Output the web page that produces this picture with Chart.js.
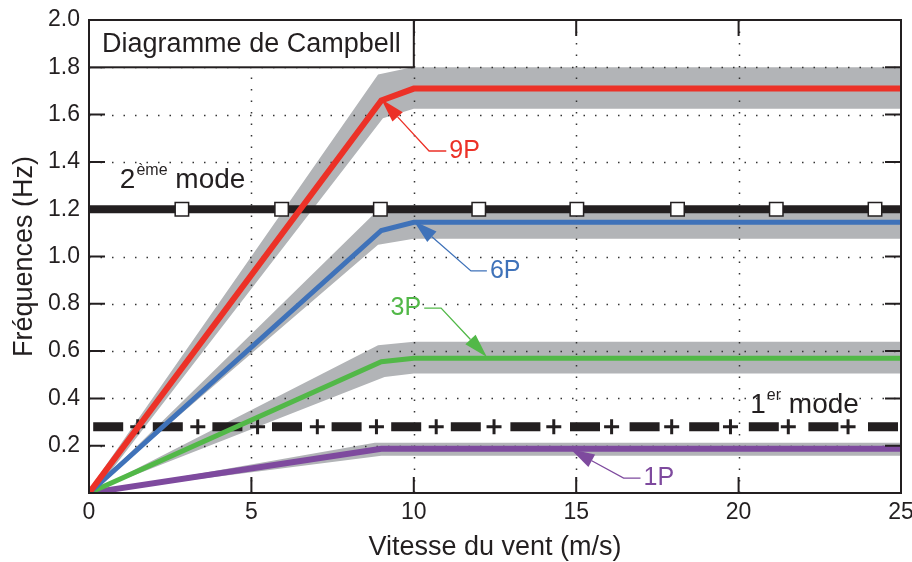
<!DOCTYPE html>
<html>
<head>
<meta charset="utf-8">
<script src="https://cdn.jsdelivr.net/npm/chart.js@4.4.0/dist/chart.umd.min.js"></script>
<style>
  html, body { margin: 0; padding: 0; background: #fff; }
</style>
</head>
<body>
<canvas id="campbell" width="912" height="562"></canvas>
<script>
// vitesse du vent aux points de cassure (m/s)
var vent = [0, 9, 10, 25];
var f9P = [0, 1.66, 1.71, 1.71];
var f6P = [0, 1.11, 1.145, 1.145];
var f3P = [0, 0.555, 0.57, 0.57];
var f1P = [0, 0.187, 0.187, 0.187];

// bandes de tolérance autour de chaque harmonique [vent, fréquence]
var bande9P_haut = [[0, 0.015], [8.9, 1.77], [9.95, 1.80], [25, 1.80]];
var bande9P_bas = [[0.15, 0], [9.05, 1.585], [10, 1.625], [25, 1.625]];
var bande6P_haut = [[0, 0], [8.85, 1.19], [10, 1.19], [25, 1.19]];
var bande6P_bas = [[0, 0], [8.9, 1.05], [10, 1.075], [25, 1.075]];
var bande3P_haut = [[0, 0], [8.9, 0.625], [10, 0.64], [25, 0.64]];
var bande3P_bas = [[0, 0], [9.1, 0.49], [10, 0.505], [25, 0.505]];
var bande1P_haut = [[0, 0], [8.8, 0.212], [25, 0.212]];
var bande1P_bas = [[0, 0], [9.0, 0.158], [25, 0.158]];

// modes propres de la tour
var mode1 = 0.28;
var mode2 = 1.2;
var mode1_marqueurs = [1.5, 3.35, 5.19, 7.03, 8.85, 10.69, 12.47, 14.31, 16.09, 17.94, 19.75, 21.53, 23.37];
var mode2_marqueurs = [2.86, 5.93, 8.97, 12.0, 15.02, 18.12, 21.16, 24.2];

var NOIR = '#231f20', GRIS = '#b2b4b7';
var ROUGE = '#ec3127', BLEU = '#3f72b9', VERT = '#52b848', VIOLET = '#7e4a9e';
var POLICE = '"Liberation Sans", Arial, Helvetica, sans-serif';

function points(xs, ys) {
  return xs.map(function (x, i) { return { x: x, y: ys[i] }; });
}
function contour(haut, bas) {
  var h = haut.map(function (p) { return { x: p[0], y: p[1] }; });
  var b = bas.slice().reverse().map(function (p) { return { x: p[0], y: p[1] }; });
  return h.concat(b);
}
function bande(haut, bas) {
  return { data: contour(haut, bas), bande: true, fill: 'shape', backgroundColor: GRIS,
           borderWidth: 0, pointRadius: 0, order: 10 };
}
function courbe(ys, couleur, epaisseur) {
  return { data: points(vent, ys), borderColor: couleur, borderWidth: epaisseur,
           borderJoinStyle: 'miter', pointRadius: 0, fill: false, order: 1 };
}
function constante(y) {
  return [{ x: 0, y: y }, { x: 25, y: y }];
}
function marqueurs(xs, y) {
  return xs.map(function (x) { return { x: x, y: y }; });
}

var datasets = [
  courbe(f9P, ROUGE, 6),
  courbe(f6P, BLEU, 5),
  courbe(f3P, VERT, 5),
  courbe(f1P, VIOLET, 6),
  { data: marqueurs(mode2_marqueurs, mode2), showLine: false, pointStyle: 'rect', pointRadius: 9.5,
    pointBackgroundColor: '#fff', pointBorderColor: NOIR, pointBorderWidth: 1.5, order: 2 },
  { data: marqueurs(mode1_marqueurs, mode1), showLine: false, pointStyle: 'cross', pointRadius: 7.5,
    pointBorderColor: NOIR, pointBorderWidth: 3, order: 2 },
  { data: constante(mode2), borderColor: NOIR, borderWidth: 8, pointRadius: 0, fill: false, order: 3 },
  { data: constante(mode1), borderColor: NOIR, borderWidth: 9, borderDash: [30, 29.6],
    borderDashOffset: 55.4, pointRadius: 0, fill: false, order: 3 },
  bande(bande9P_haut, bande9P_bas),
  bande(bande6P_haut, bande6P_bas),
  bande(bande3P_haut, bande3P_bas),
  bande(bande1P_haut, bande1P_bas)
];
var nbBandes = datasets.filter(function (d) { return d.bande; }).length;

// étiquettes fléchées des harmoniques
var reperes = [
  { texte: '9P', couleur: ROUGE, pointe: [9.0, 1.665], coude: [10.47, 1.446], fin: [11.0, 1.446] },
  { texte: '6P', couleur: BLEU, pointe: [10.0, 1.15], coude: [11.76, 0.939], fin: [12.25, 0.939] },
  { texte: '3P', couleur: VERT, pointe: [12.25, 0.575], coude: [10.84, 0.782], fin: [10.32, 0.782] },
  { texte: '1P', couleur: VIOLET, pointe: [14.83, 0.185], coude: [16.46, 0.063], fin: [16.98, 0.063] }
];

function grille(chart) {
  var ctx = chart.ctx, a = chart.chartArea, sx = chart.scales.x, sy = chart.scales.y;
  ctx.save();
  ctx.strokeStyle = '#333';
  ctx.lineWidth = 1.5;
  ctx.setLineDash([1.5, 10]);
  sx.ticks.forEach(function (t) {
    if (t.value <= sx.min || t.value >= sx.max) return;
    var px = Math.round(sx.getPixelForValue(t.value)) + 0.5;
    ctx.beginPath(); ctx.moveTo(px, a.top); ctx.lineTo(px, a.bottom); ctx.stroke();
  });
  sy.ticks.forEach(function (t) {
    if (t.value <= sy.min || t.value >= sy.max - 1e-9) return;
    var py = Math.round(sy.getPixelForValue(t.value)) + 0.5;
    ctx.beginPath(); ctx.moveTo(a.left, py); ctx.lineTo(a.right, py); ctx.stroke();
  });
  ctx.restore();
}

function cadre(chart) {
  var ctx = chart.ctx, a = chart.chartArea, sx = chart.scales.x, sy = chart.scales.y;
  var L = 16;
  ctx.save();
  ctx.strokeStyle = NOIR;
  ctx.lineWidth = 2;
  ctx.strokeRect(a.left, a.top, a.right - a.left, a.bottom - a.top);
  ctx.beginPath();
  sx.ticks.forEach(function (t) {
    var px = sx.getPixelForValue(t.value);
    ctx.moveTo(px, a.bottom); ctx.lineTo(px, a.bottom - L);
    ctx.moveTo(px, a.top); ctx.lineTo(px, a.top + L);
  });
  sy.ticks.forEach(function (t) {
    var py = sy.getPixelForValue(t.value);
    ctx.moveTo(a.left, py); ctx.lineTo(a.left + L, py);
    ctx.moveTo(a.right, py); ctx.lineTo(a.right - L, py);
  });
  ctx.stroke();
  ctx.restore();
}

function texteExposant(ctx, x, y, base, expo, suite, taille) {
  ctx.font = taille + 'px ' + POLICE;
  ctx.fillText(base, x, y);
  x += ctx.measureText(base).width + 1;
  ctx.font = Math.round(taille * 0.58) + 'px ' + POLICE;
  ctx.fillText(expo, x, y - taille * 0.45);
  x += ctx.measureText(expo).width;
  ctx.font = taille + 'px ' + POLICE;
  ctx.fillText(suite, x, y);
}

function fleche(ctx, sx, sy, r) {
  var tx = sx.getPixelForValue(r.pointe[0]), ty = sy.getPixelForValue(r.pointe[1]);
  var cx = sx.getPixelForValue(r.coude[0]), cy = sy.getPixelForValue(r.coude[1]);
  var fx = sx.getPixelForValue(r.fin[0]), fy = sy.getPixelForValue(r.fin[1]);
  var ang = Math.atan2(ty - cy, tx - cx);
  var lg = 24, dl = 7;
  var bx = tx - lg * Math.cos(ang), by = ty - lg * Math.sin(ang);
  ctx.strokeStyle = r.couleur;
  ctx.fillStyle = r.couleur;
  ctx.lineWidth = 1.3;
  ctx.beginPath();
  ctx.moveTo(fx, fy); ctx.lineTo(cx, cy); ctx.lineTo(bx, by);
  ctx.stroke();
  ctx.beginPath();
  ctx.moveTo(tx, ty);
  ctx.lineTo(bx + dl * Math.sin(ang), by - dl * Math.cos(ang));
  ctx.lineTo(bx - dl * Math.sin(ang), by + dl * Math.cos(ang));
  ctx.closePath();
  ctx.fill();
  ctx.font = '25px ' + POLICE;
  ctx.textBaseline = 'middle';
  if (fx > cx) { ctx.textAlign = 'left'; ctx.fillText(r.texte, fx + 3, fy); }
  else { ctx.textAlign = 'right'; ctx.fillText(r.texte, fx - 3, fy); }
}

function annotations(chart) {
  var ctx = chart.ctx, sx = chart.scales.x, sy = chart.scales.y;
  ctx.save();
  // cartouche du titre
  var x0 = sx.getPixelForValue(0), x1 = sx.getPixelForValue(10);
  var y0 = sy.getPixelForValue(2.0), y1 = sy.getPixelForValue(1.8);
  ctx.fillStyle = '#fff';
  ctx.fillRect(x0, y0, x1 - x0, y1 - y0);
  ctx.strokeStyle = NOIR;
  ctx.lineWidth = 2;
  ctx.strokeRect(x0, y0, x1 - x0, y1 - y0);
  ctx.fillStyle = NOIR;
  ctx.font = '27px ' + POLICE;
  ctx.textAlign = 'center';
  ctx.textBaseline = 'middle';
  ctx.fillText('Diagramme de Campbell', (x0 + x1) / 2, (y0 + y1) / 2 + 1);

  // noms des modes
  ctx.textAlign = 'left';
  ctx.textBaseline = 'alphabetic';
  texteExposant(ctx, sx.getPixelForValue(0.95), sy.getPixelForValue(1.29), '2', 'ème', ' mode', 28);
  texteExposant(ctx, sx.getPixelForValue(20.36), sy.getPixelForValue(0.338), '1', 'er', ' mode', 28);

  reperes.forEach(function (r) { fleche(ctx, sx, sy, r); });
  ctx.restore();
}

var habillage = {
  id: 'habillage',
  beforeDatasetsDraw: function (chart) { chart.$bandes = 0; },
  afterDatasetDraw: function (chart, args) {
    if (!chart.data.datasets[args.index].bande) return;
    chart.$bandes++;
    if (chart.$bandes === nbBandes) grille(chart);
  },
  afterDraw: function (chart) {
    cadre(chart);
    annotations(chart);
  }
};

new Chart(document.getElementById('campbell'), {
  type: 'line',
  data: { datasets: datasets },
  plugins: [habillage],
  options: {
    responsive: false,
    animation: false,
    events: [],
    devicePixelRatio: 1,
    layout: { padding: { top: 20, right: 10, bottom: 0, left: 0 } },
    elements: { line: { tension: 0 } },
    plugins: { legend: { display: false }, tooltip: { enabled: false } },
    scales: {
      x: {
        type: 'linear', min: 0, max: 25,
        grid: { display: false, drawTicks: false },
        border: { display: false },
        ticks: { stepSize: 5, maxRotation: 0, padding: 6, color: NOIR,
                 font: { family: POLICE, size: 23 } },
        title: { display: true, text: 'Vitesse du vent (m/s)', color: NOIR,
                 font: { family: POLICE, size: 27 }, padding: { top: 0, bottom: -2 } },
        afterFit: function (s) { s.height = 69; s.paddingLeft = 0; s.paddingRight = 0; }
      },
      y: {
        type: 'linear', min: 0, max: 2,
        grid: { display: false, drawTicks: false },
        border: { display: false },
        ticks: { stepSize: 0.2, padding: 9, color: NOIR, font: { family: POLICE, size: 23 },
                 callback: function (v) { return v === 0 ? '' : v.toFixed(1); } },
        title: { display: true, text: 'Fréquences (Hz)', color: NOIR,
                 font: { family: POLICE, size: 27 }, padding: { top: 8, bottom: 0 } },
        afterFit: function (s) { s.width = 89; s.paddingTop = 0; s.paddingBottom = 0; }
      }
    }
  }
});
</script>
</body>
</html>
